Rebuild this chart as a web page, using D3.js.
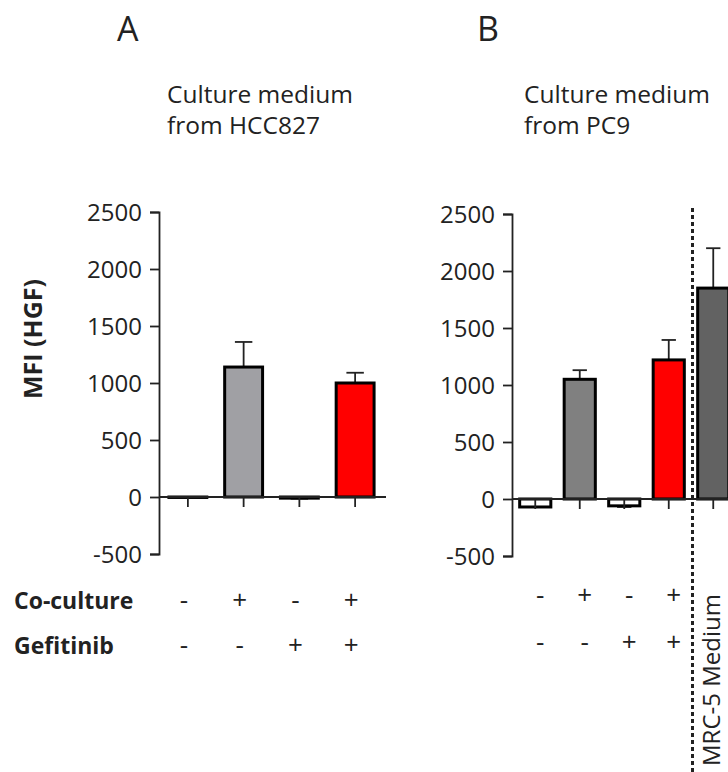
<!DOCTYPE html>
<html>
<head>
<meta charset="utf-8">
<script src="https://cdn.jsdelivr.net/npm/d3@7"></script>
<style>
  body { margin: 0; background: #fff; }
  svg text { font-family: "Open Sans", "Noto Sans", sans-serif; fill: #222; }
</style>
</head>
<body>
<div class="app"></div>
<script>
'use strict'

// panel A: culture medium from HCC827
var valuesA = [-4, 1140, -10, 1000];
var errorsA = [0, 220, 5, 90];
var colorsA = ["#ffffff", "#a0a0a4", "#ffffff", "#ff0000"];
var coCultureA = ["-", "+", "-", "+"];
var gefitinibA = ["-", "-", "+", "+"];

// panel B: culture medium from PC9 (+ MRC-5 medium)
var valuesB = [-70, 1050, -60, 1220, 1850];
var errorsB = [0, 80, 10, 175, 350];
var colorsB = ["#ffffff", "#808080", "#ffffff", "#ff0000", "#626262"];
var coCultureB = ["-", "+", "-", "+"];
var gefitinibB = ["-", "-", "+", "+"];

var yTicks = [-500, 0, 500, 1000, 1500, 2000, 2500];

var svg = d3.select(".app")
            .append("svg")
            .attr("width", 728)
            .attr("height", 772);

// panel letters and titles
svg.append("text").attr("x", 117).attr("y", 41).attr("font-size", 34).text("A");
svg.append("text").attr("x", 477).attr("y", 41).attr("font-size", 34).text("B");

function title(x, lines) {
  lines.forEach(function(t, i) {
    svg.append("text")
       .attr("x", x)
       .attr("y", 103 + i * 31)
       .attr("font-size", 24.5)
       .text(t);
  });
}
title(167, ["Culture medium", "from HCC827"]);
title(524, ["Culture medium", "from PC9"]);

// y label
svg.append("text")
   .attr("transform", "translate(42,339) rotate(-90)")
   .attr("text-anchor", "middle")
   .attr("font-size", 25)
   .attr("font-weight", "bold")
   .text("MFI (HGF)");

function panel(opts) {
  var y = d3.scaleLinear().domain([-500, 2500]).range([opts.y0, opts.y1]);
  var x = d3.scaleBand()
            .domain(d3.range(opts.values.length))
            .range([opts.axisX + 1, opts.axisX + 1 + opts.step * opts.values.length]);
  var bw = x.bandwidth() * opts.barFrac;

  var g = svg.append("g");

  // y axis
  var yAxis = d3.axisLeft(y)
                .tickValues(yTicks)
                .tickFormat(function(d) { return String(d); })
                .tickSize(9)
                .tickPadding(8);
  var ga = g.append("g").attr("transform", "translate(" + opts.axisX + ",0)").call(yAxis);
  ga.select(".domain").attr("stroke", "#222").attr("stroke-width", 1.8);
  ga.selectAll(".tick line").attr("stroke", "#222").attr("stroke-width", 1.8);
  ga.selectAll(".tick text")
    .attr("font-size", 24)
    .attr("fill", "#222")
    .attr("dy", "0.36em");

  var data = opts.values.map(function(v, i) {
    return { i: i, v: v, e: opts.errors[i], c: opts.colors[i] };
  });

  function tip(d) { return y(d.v + (d.v < 0 ? -d.e : d.e)); }
  function cx(i) { return x(i) + x.bandwidth() / 2; }

  // error bars
  var eb = g.selectAll(".err").data(data.filter(function(d) { return d.e > 0; }))
            .enter().append("g");
  eb.append("line")
    .attr("x1", function(d) { return cx(d.i); })
    .attr("x2", function(d) { return cx(d.i); })
    .attr("y1", function(d) { return y(d.v); })
    .attr("y2", tip)
    .attr("stroke", "#222").attr("stroke-width", 1.8);
  eb.append("line")
    .attr("x1", function(d) { return cx(d.i) - bw * 0.23; })
    .attr("x2", function(d) { return cx(d.i) + bw * 0.23; })
    .attr("y1", tip)
    .attr("y2", tip)
    .attr("stroke", "#222").attr("stroke-width", 1.8);

  // bars
  g.selectAll(".bar").data(data).enter().append("rect")
   .attr("x", function(d) { return x(d.i) + (x.bandwidth() - bw) / 2; })
   .attr("width", bw)
   .attr("y", function(d) { return y(Math.max(0, d.v)); })
   .attr("height", function(d) { return Math.abs(y(d.v) - y(0)); })
   .attr("fill", function(d) { return d.c; })
   .attr("stroke", "#000")
   .attr("stroke-width", 3);

  // zero baseline with category ticks
  g.append("line")
   .attr("x1", opts.axisX).attr("x2", opts.baseEnd)
   .attr("y1", y(0)).attr("y2", y(0))
   .attr("stroke", "#222").attr("stroke-width", 1.8);
  g.selectAll(".xt").data(data).enter().append("line")
   .attr("x1", function(d) { return cx(d.i); })
   .attr("x2", function(d) { return cx(d.i); })
   .attr("y1", y(0)).attr("y2", y(0) + 10)
   .attr("stroke", "#222").attr("stroke-width", 1.8);

  // +/- rows
  [opts.co, opts.gef].forEach(function(row, r) {
    g.selectAll(".sign" + r).data(row).enter().append("text")
     .attr("x", function(d, i) { return cx(i) + opts.signDx; })
     .attr("y", opts.rowY[r])
     .attr("text-anchor", "middle")
     .attr("font-size", 26)
     .text(function(d) { return d; });
  });
  return { x: x, y: y };
}

panel({
  values: valuesA, errors: errorsA, colors: colorsA,
  co: coCultureA, gef: gefitinibA,
  axisX: 159, step: 55.75, barFrac: 0.68,
  y0: 554, y1: 212, baseEnd: 386, rowY: [609, 654], signDx: -4
});

var pB = panel({
  values: valuesB, errors: errorsB, colors: colorsB,
  co: coCultureB, gef: gefitinibB,
  axisX: 512, step: 44.5, barFrac: 0.7,
  y0: 556, y1: 214, baseEnd: 728, rowY: [604, 651], signDx: 5
});

// row labels
svg.append("text").attr("x", 14).attr("y", 609).attr("font-size", 23)
   .attr("font-weight", "bold").text("Co-culture");
svg.append("text").attr("x", 14).attr("y", 654).attr("font-size", 23)
   .attr("font-weight", "bold").text("Gefitinib");

// dotted separator before MRC-5 medium bar
var sepX = (pB.x(3) + pB.x(4) + pB.x.bandwidth()) / 2 + 1.5;
svg.append("line")
   .attr("x1", sepX).attr("x2", sepX)
   .attr("y1", 208).attr("y2", 772)
   .attr("stroke", "#222").attr("stroke-width", 3)
   .attr("stroke-dasharray", "4,3");

svg.append("text")
   .attr("transform", "translate(720,766) rotate(-90)")
   .attr("font-size", 24)
   .text("MRC-5 Medium");
</script>
</body>
</html>
